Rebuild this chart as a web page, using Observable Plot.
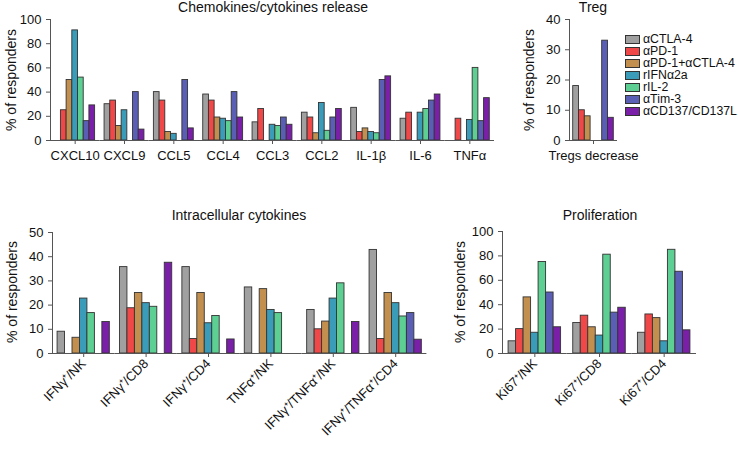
<!DOCTYPE html>
<html><head><meta charset="utf-8">
<script src="https://cdn.jsdelivr.net/npm/d3@7"></script>
<script src="https://cdn.jsdelivr.net/npm/@observablehq/plot@0.6"></script>
<style>
body{margin:0;background:#fff;}
#root{position:relative;width:738px;height:450px;font-family:"Liberation Sans",Arial,sans-serif;color:#111;overflow:hidden;}
.panel{position:absolute;}
.title{position:absolute;font-size:14px;line-height:14px;transform:translate(-50%,-50%);white-space:nowrap;}
.ylab{position:absolute;font-size:14px;line-height:14px;transform:translate(-50%,-50%) rotate(-90deg);white-space:nowrap;}
.legend{position:absolute;left:625px;top:33px;font-size:12.3px;}
.legend .item{display:flex;align-items:center;height:12.1px;line-height:11px;white-space:nowrap;}
.legend .sw{width:13px;height:7px;border:1px solid #333;margin-right:3px;box-sizing:content-box;flex:none;}
</style></head>
<body><div id="root"></div>
<script>
// ---- data ----
const series = ["αCTLA-4","αPD-1","αPD-1+αCTLA-4","rIFNα2a","rIL-2","αTim-3","αCD137/CD137L"];
const colors = ["#a0a0a0","#f04848","#c38f4e","#3a9cb9","#5dcf93","#5a5fb5","#7a1fa8"];

const chemoCats = ["CXCL10","CXCL9","CCL5","CCL4","CCL3","CCL2","IL-1β","IL-6","TNFα"];
const chemoCTLA4   = [0, 30, 40, 38, 15, 23, 27, 18, 0];
const chemoPD1     = [25, 33, 33, 33, 26, 19, 7, 23, 18];
const chemoCombo   = [50, 12, 7, 19, 0, 6, 10, 0, 0];
const chemoIFN     = [91, 25, 5.5, 18, 13, 31, 7, 23, 17];
const chemoIL2     = [52, 0, 0, 16, 12, 8, 6, 26, 60];
const chemoTim3    = [16, 40, 50, 40, 19, 19, 50, 33, 16];
const chemoCD137   = [29, 9, 10, 19, 13, 26, 53, 38, 35];

const tregCats = ["Tregs decrease"];
const tregValues = [[18],[10],[8],[0],[0],[33],[7.5]];

const intraCats = ["IFNγ⁺/NK","IFNγ⁺/CD8","IFNγ⁺/CD4","TNFα⁺/NK","IFNγ⁺/TNFα⁺/NK","IFNγ⁺/TNFα⁺/CD4"];
const intraCTLA4 = [9, 35.7, 35.7, 27.3, 18, 42.8];
const intraPD1   = [0, 18.7, 6, 0, 10, 6];
const intraCombo = [6.5, 25, 25, 26.6, 13.2, 25];
const intraIFN   = [22.7, 20.8, 12.5, 18, 22.7, 20.8];
const intraIL2   = [16.7, 19.3, 15.5, 16.7, 29, 15.3];
const intraTim3  = [0, 0, 0, 0, 0, 16.7];
const intraCD137 = [13, 37.5, 5.8, 0, 13, 5.7];

const prolCats = ["Ki67⁺/NK","Ki67⁺/CD8","Ki67⁺/CD4"];
const prolCTLA4 = [10, 25, 17];
const prolPD1   = [20, 31, 32];
const prolCombo = [46, 21.5, 29];
const prolIFN   = [17, 14.7, 10];
const prolIL2   = [75, 81, 85];
const prolTim3  = [50, 33.5, 67];
const prolCD137 = [21.5, 37.5, 19];

const chemoTicks = [0,20,40,60,80,100];
const tregTicks = [0,10,20,30,40];
const intraTicks = [0,10,20,30,40,50];
const prolTicks = [0,20,40,60,80,100];

// ---- helpers ----
const root = document.getElementById("root");
function toRows(cats, vals){
  return series.flatMap((s,i)=>cats.map((c,j)=>({category:c, series:s, value:vals[i][j]})));
}
function panel(o){
  const data = toRows(o.cats, o.vals).filter(d=>d.value>0);
  const p = Plot.plot({
    width:o.width, height:o.height,
    marginTop:o.mt, marginBottom:o.mb, marginLeft:o.ml, marginRight:o.mr,
    style:{fontFamily:'"Liberation Sans",Arial,sans-serif', fontSize:"13px", color:"#111", background:"transparent", overflow:"visible"},
    fx:{domain:o.cats, padding:0, round:false},
    x:{domain:series, paddingInner:0, paddingOuter:o.po, axis:null, round:false},
    y:{domain:o.ydom},
    color:{domain:series, range:colors},
    marks:[
      Plot.barY(data,{fx:"category", x:"series", y:"value", fill:"series", stroke:"#333", strokeWidth:0.9}),
      Plot.ruleY([0],{stroke:"#555"}),
      Plot.frame({anchor:"left", facetAnchor:"left", stroke:"#555"}),
      Plot.axisY({ticks:o.ticks, tickSize:4, tickPadding:5, label:null, stroke:"#555", fontSize:13}),
      Plot.axisFx({anchor:"bottom", tickSize:4, tickPadding:o.tp ?? 6, label:null, tickRotate:o.rot ?? 0, stroke:"#555", fontSize:13})
    ]
  });
  p.classList.add("panel");
  p.style.left = o.left+"px"; p.style.top = o.top+"px";
  root.appendChild(p);
}
function text(cls, str, x, y){
  const d = document.createElement("div");
  d.className = cls; d.textContent = str;
  d.style.left = x+"px"; d.style.top = y+"px";
  root.appendChild(d);
}

// ---- panels ----
panel({cats:chemoCats, vals:[chemoCTLA4,chemoPD1,chemoCombo,chemoIFN,chemoIL2,chemoTim3,chemoCD137],
  ydom:[0,100], ticks:chemoTicks, left:0, top:0, width:500, height:175, mt:19, mb:35, ml:50, mr:6, po:0.83});
panel({cats:tregCats, vals:tregValues,
  ydom:[0,40], ticks:tregTicks, left:520, top:0, width:110, height:175, mt:19, mb:35, ml:49, mr:13, po:0.64});
panel({cats:intraCats, vals:[intraCTLA4,intraPD1,intraCombo,intraIFN,intraIL2,intraTim3,intraCD137],
  ydom:[0,50], ticks:intraTicks, left:0, top:200, width:440, height:250, mt:32, mb:97, ml:52, mr:13.6, po:0.68, rot:-45, tp:4});
panel({cats:prolCats, vals:[prolCTLA4,prolPD1,prolCombo,prolIFN,prolIL2,prolTim3,prolCD137],
  ydom:[0,100], ticks:prolTicks, left:450, top:200, width:260, height:250, mt:31, mb:97, ml:52, mr:14, po:0.81, rot:-45, tp:4});

// titles & labels
text("title","Chemokines/cytokines release",273,7);
text("title","Treg",593,7);
text("title","Intracellular cytokines",239,215);
text("title","Proliferation",600,215);
text("ylab","% of responders",11,80);
text("ylab","% of responders",529,80);
text("ylab","% of responders",12,292);
text("ylab","% of responders",460,292);

// legend
const lg = document.createElement("div"); lg.className="legend";
series.forEach((s,i)=>{
  const it = document.createElement("div"); it.className="item";
  const sw = document.createElement("span"); sw.className="sw"; sw.style.background=colors[i];
  const t = document.createElement("span"); t.textContent = s;
  it.appendChild(sw); it.appendChild(t); lg.appendChild(it);
});
root.appendChild(lg);
</script></body></html>
